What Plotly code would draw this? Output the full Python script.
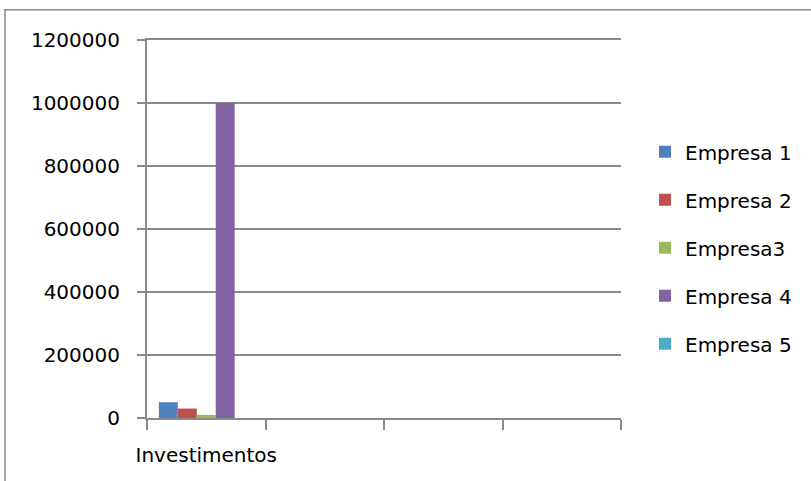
import plotly.graph_objects as go

categories = ["Investimentos", " ", "  ", "   "]
series_names = ["Empresa 1", "Empresa 2", "Empresa3", "Empresa 4", "Empresa 5"]
series_values = [
    [50000, None, None, None],
    [30000, None, None, None],
    [10000, None, None, None],
    [1000000, None, None, None],
    [0, None, None, None],
]
colors = ["#4F81BD", "#C0504D", "#9BBB59", "#8064A2", "#4BACC6"]
y_ticks = [0, 200000, 400000, 600000, 800000, 1000000, 1200000]

W, H = 811, 481
L, R, T, B = 147, 621, 40.3, 418.3
pw, ph = R - L, B - T

FONT = "DejaVu Sans"
GRID = "#8a8a8a"

fig = go.Figure()
for i, (name, vals) in enumerate(zip(series_names, series_values)):
    fig.add_trace(go.Bar(
        x=categories, y=vals, name=name,
        marker=dict(color=colors[i], line=dict(width=0)),
        legendgroup=f"g{i}",
    ))

fig.update_layout(
    width=W, height=H,
    margin=dict(l=L, r=W - R, t=T, b=H - B, pad=0, autoexpand=False),
    paper_bgcolor="white", plot_bgcolor="white",
    barmode="group", bargap=0.2, bargroupgap=0,
    font=dict(family=FONT, size=20, color="#000000"),
    showlegend=True,
    legend=dict(
        x=(645 - L) / pw, xanchor="left",
        y=(B - 248) / ph, yanchor="middle",
        traceorder="grouped", tracegroupgap=19,
        font=dict(family=FONT, size=20, color="#000000"),
        bgcolor="rgba(0,0,0,0)",
    ),
    xaxis=dict(
        type="category", categoryorder="array", categoryarray=categories,
        range=[-0.5, 3.5], tickson="boundaries", tickangle=0,
        automargin=False,
        ticks="outside", ticklen=10, tickwidth=2, tickcolor=GRID,
        showline=True, linecolor=GRID, linewidth=2, mirror=True,
        showgrid=False, zeroline=False,
        ticklabelstandoff=18,
    ),
    yaxis=dict(
        range=[0, 1200000], tickvals=y_ticks, tickformat="d",
        automargin=False,
        ticks="outside", ticklen=8, tickwidth=2, tickcolor=GRID,
        showline=True, linecolor=GRID, linewidth=2,
        showgrid=True, gridcolor=GRID, gridwidth=1.5,
        zeroline=False,
        ticklabelstandoff=13,
    ),
    shapes=[dict(
        type="rect", xref="paper", yref="paper",
        x0=(5 - L) / pw, x1=(W + 20 - L) / pw,
        y0=(B - (H + 20)) / ph, y1=(B - 10) / ph,
        line=dict(color="#8a8a8a", width=1.5), fillcolor="rgba(0,0,0,0)",
        layer="below",
    )],
)

fig.write_html("out.html")
